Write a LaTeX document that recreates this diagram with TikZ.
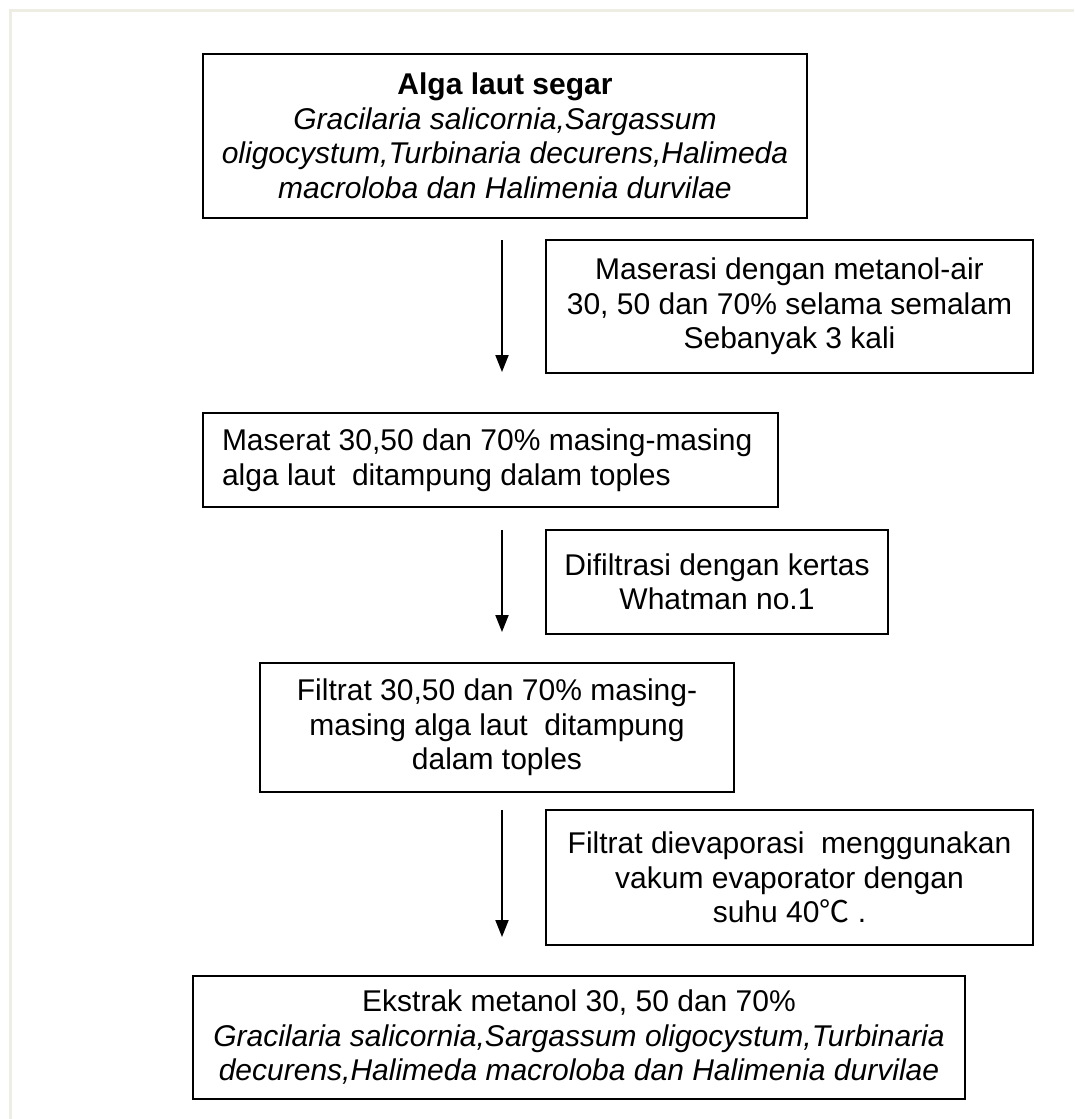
\documentclass[tikz,border=0pt]{standalone}
\usepackage{fontspec}
\setmainfont{Liberation Sans}
\newfontfamily\cjkfont{Noto Sans CJK SC}
\usetikzlibrary{arrows.meta}
\definecolor{framecol}{RGB}{238,237,227}
\newcommand{\bxt}[3]{\begin{minipage}[c][#2][c]{#1}\centering #3\end{minipage}}
\newcommand{\bxl}[4]{\begin{minipage}[c][#2][c]{#1}\raggedright\leftskip=#3\relax #4\end{minipage}}
\tikzset{
  flowbox/.style={draw=black, line width=2pt, inner sep=0pt, fill=white},
  flowarrow/.style={line width=2pt, -{Triangle[width=13pt,length=17pt]}},
}
\begin{document}
\begin{tikzpicture}[x=1pt,y=-1pt, every node/.style={font=\fontsize{30}{34.5}\selectfont}]
\useasboundingbox (0,0) rectangle (1074,1119);
\fill[white] (0,0) rectangle (1074,1119);
\draw[framecol, line width=3pt] (10,1119) -- (10,10) -- (1074,10);

\node[flowbox] (b1) at (505,136) {\bxt{604pt}{164pt}{\textbf{Alga laut segar}\\
\textit{Gracilaria salicornia,Sargassum}\\
\textit{oligocystum,Turbinaria decurens,Halimeda}\\
\textit{macroloba dan Halimenia durvilae}}};

\node[flowbox] (b2) at (789.5,306.5) {\bxt{487pt}{133pt}{Maserasi dengan metanol-air\\
30, 50 dan 70\% selama semalam\\
Sebanyak 3 kali}};

\node[flowbox] (b3) at (490.5,460) {\bxl{575pt}{94pt}{19pt}{Maserat 30,50 dan 70\% masing-masing\\
alga laut\ \ ditampung dalam toples}};

\node[flowbox] (b4) at (717,582) {\bxt{342pt}{104pt}{Difiltrasi dengan kertas\\
Whatman no.1}};

\node[flowbox] (b5) at (497,727.5) {\bxt{474pt}{129pt}{Filtrat 30,50 dan 70\% masing-\\
masing alga laut\ \ ditampung\\
dalam toples}};

\node[flowbox] (b6) at (789.5,877.5) {\bxt{487pt}{135pt}{Filtrat dievaporasi\ \ menggunakan\\
vakum evaporator dengan\\
suhu 40{\cjkfont ℃} .}};

\node[flowbox] (b7) at (579,1037.5) {\bxt{772pt}{123pt}{Ekstrak metanol 30, 50 dan 70\%\\
\textit{Gracilaria salicornia,Sargassum oligocystum,Turbinaria}\\
\textit{decurens,Halimeda macroloba dan Halimenia durvilae}}};

\coordinate (a1s) at (502,240);
\coordinate (a1e) at (502,372);
\coordinate (a2s) at (502,530);
\coordinate (a2e) at (502,632);
\coordinate (a3s) at (502,810);
\coordinate (a3e) at (502,937);
\draw[flowarrow] (a1s) -- (a1e);
\draw[flowarrow] (a2s) -- (a2e);
\draw[flowarrow] (a3s) -- (a3e);
\end{tikzpicture}
\end{document}
